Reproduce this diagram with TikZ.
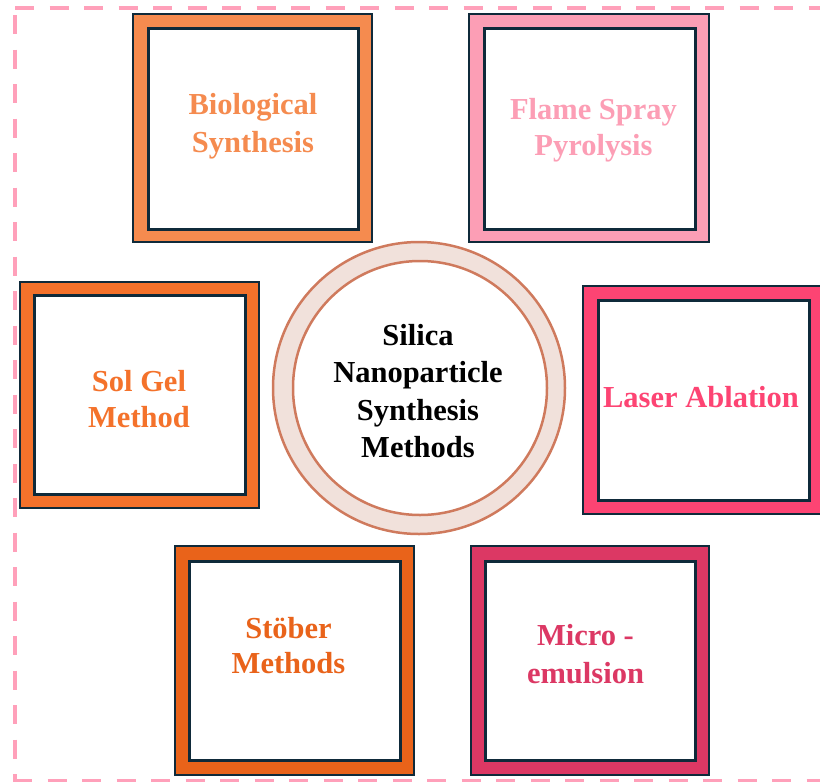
\documentclass[tikz,border=0pt]{standalone}
\usepackage{fontspec}
\setmainfont{Liberation Serif}
\definecolor{navy}{HTML}{0F2A3A}
\definecolor{dashpink}{HTML}{FFA0BA}
\definecolor{cBio}{HTML}{F58B4F}
\definecolor{cFlame}{HTML}{FC9EB5}
\definecolor{cSol}{HTML}{F4722B}
\definecolor{cLaser}{HTML}{FD4473}
\definecolor{cStob}{HTML}{E9631A}
\definecolor{cMicro}{HTML}{DC3864}
\definecolor{ringline}{HTML}{CF7A5D}
\definecolor{ringfill}{HTML}{F1E1DB}
\begin{document}
\begin{tikzpicture}[x=1pt,y=-1pt,
  framebox/.style={draw=navy, line width=2pt},
  innerbox/.style={draw=navy, line width=3pt, fill=white},
  lbl/.style={font=\bfseries\fontsize{30.5}{37}\selectfont, align=center, inner sep=0pt},
  border/.style={draw=dashpink, line width=4pt, dash pattern=on 19pt off 15.5pt}]
\useasboundingbox (0,0) rectangle (820,782);
\begin{scope}
\clip (0,0) rectangle (820,782);
\draw[border] (15,8) -- (830,8);
\draw[border] (15,15) -- (15,781);
\draw[border] (13,781) -- (830,781);
% laser box (runs off right edge)
\draw[framebox, fill=cLaser] (583,286) rectangle (840,514);
\draw[innerbox] (598,300) rectangle (809,500);
\end{scope}
% biological
\draw[framebox, fill=cBio] (133,14) rectangle (372,242);
\draw[innerbox] (148,28) rectangle (358,229);
% flame
\draw[framebox, fill=cFlame] (469,14) rectangle (709,242);
\draw[innerbox] (484,28) rectangle (695,229);
% sol gel
\draw[framebox, fill=cSol] (20,282) rectangle (259,508);
\draw[innerbox] (34,295) rectangle (245,494);
% stober
\draw[framebox, fill=cStob] (175,546) rectangle (414,775);
\draw[innerbox] (189,561) rectangle (400,760);
% micro
\draw[framebox, fill=cMicro] (471,546) rectangle (709,775);
\draw[innerbox] (485,561) rectangle (695,760);
% ring
\fill[ringfill] (419,388) circle (146);
\draw[ringline, line width=2.5pt] (419,388) circle (146);
\draw[ringline, line width=2.5pt, fill=white] (420,388) circle (127);
% labels
\node[lbl, text=cBio, font=\bfseries\fontsize{30.5}{38}\selectfont] (bio) at (253,126.5) {Biological\\Synthesis};
\node[lbl, text=cFlame, font=\bfseries\fontsize{30.5}{36}\selectfont] (flame) at (593.5,130.5) {Flame Spray\\Pyrolysis};
\node[lbl, text=cSol, font=\bfseries\fontsize{30.5}{36}\selectfont] (sol) at (139,399) {Sol Gel\\Method};
\node[lbl, text=cLaser] (laser) at (701,397) {Laser Ablation};
\node[lbl, text=black, font=\bfseries\fontsize{30.5}{37.3}\selectfont] (center) at (418,391) {Silica\\Nanoparticle\\Synthesis\\Methods};
\node[lbl, text=cStob, font=\bfseries\fontsize{30.5}{35}\selectfont] (stob) at (288.5,645.5) {Stöber\\Methods};
\node[lbl, text=cMicro, font=\bfseries\fontsize{30.5}{38}\selectfont] (micro) at (585.5,654) {Micro -\\emulsion};
\end{tikzpicture}
\end{document}
